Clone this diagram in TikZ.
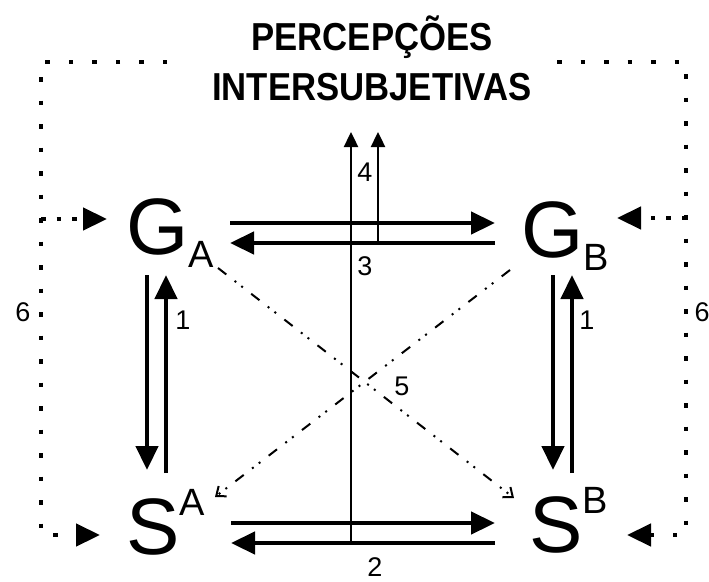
\documentclass[tikz,border=0pt]{standalone}
\usepackage{fontspec}
\setmainfont{Liberation Sans}
\newfontfamily\titlefont{Liberation Sans Bold}[FakeStretch=0.89]
\usepackage{tikz}
\usetikzlibrary{arrows.meta,calc,positioning}

\newcommand{\lowidx}[1]{\raisebox{-13pt}{\fontsize{38}{38}\selectfont #1}}
\newcommand{\highidx}[1]{\raisebox{39pt}{\fontsize{38}{38}\selectfont #1}}

\begin{document}
\begin{tikzpicture}[
    x=1pt, y=-1pt,
    term/.style={inner sep=0pt, anchor=base west, font=\fontsize{80}{80}\selectfont},
    title/.style={inner sep=0pt, anchor=base, font=\titlefont\fontsize{39}{39}\selectfont},
    num/.style={inner sep=0pt, font=\fontsize{27}{27}\selectfont},
    heavy/.style={line width=4.5pt, -{Triangle[length=24pt,width=22pt]}},
    thin/.style={line width=2.4pt, -{Triangle[length=15pt,width=14pt]}},
    cross/.style={line width=2pt, dash pattern=on 10.5pt off 10.5pt on 2pt off 6.5pt on 2pt off 10.5pt, -{Straight Barb[length=8pt,width=13pt]}},
    frame/.style={line width=4.5pt, dash pattern=on 4.5pt off 19pt, -{Triangle[length=24pt,width=22pt]}},
    branch/.style={line width=4.5pt, dash pattern=on 4.5pt off 11pt, -{Triangle[length=24pt,width=22pt]}}
]
    \useasboundingbox (0,0) rectangle (709,581);

    % Title
    \node[title] (tit1) at (372,50) {PERCEPÇÕES};
    \node[title] (tit2) at (372,100) {INTERSUBJETIVAS};

    % Terms
    \node[term] (ga) at (126,254) {G\lowidx{A}};
    \node[term] (gb) at (521,257) {G\lowidx{B}};
    \node[term] (sa) at (126,554) {S\highidx{A}};
    \node[term] (sb) at (529,552) {S\highidx{B}};

    % Frame corners
    \coordinate (ftl) at (167,62);
    \coordinate (cl1) at (41,62);
    \coordinate (cl2) at (41,535);
    \coordinate (cl3) at (41,219);
    \coordinate (ftr) at (557,62);
    \coordinate (cr1) at (686,62);
    \coordinate (cr2) at (686,535);
    \coordinate (cr3) at (686,218);

    % Numbers
    \node[num] (n1a) at (183,320) {1};
    \node[num] (n1b) at (587,320) {1};
    \node[num] (n2) at (375,567) {2};
    \node[num] (n3) at (365,266) {3};
    \node[num] (n4) at (365,172) {4};
    \node[num] (n5) at (402,386) {5};
    \node[num] (n6a) at (23,312) {6};
    \node[num] (n6b) at (702,312) {6};

    % Connections G
    \draw[heavy] ($(ga.base west)+(104,-31)$) -- ($(gb.base west)+(-26,-34)$);
    \draw[heavy] ($(gb.base west)+(-26,-14)$) -- ($(ga.base west)+(104,-11)$);

    % Connections S
    \draw[heavy] ($(sa.base west)+(105,-31)$) -- ($(sb.base west)+(-34,-29)$);
    \draw[heavy] ($(sb.base west)+(-34,-9)$) -- ($(sa.base west)+(105,-11)$);

    % Connections G-S
    \draw[heavy] ($(ga.base west)+(21,21)$) -- ($(sa.base west)+(21,-84)$);
    \draw[heavy] ($(sa.base west)+(40,-81)$) -- ($(ga.base west)+(40,21)$);
    \draw[heavy] ($(gb.base west)+(32,18)$) -- ($(sb.base west)+(24,-82)$);
    \draw[heavy] ($(sb.base west)+(43,-79)$) -- ($(gb.base west)+(51,18)$);

    % Towards the title
    \draw[thin] ($(sa.base west)+(225,-11)$) -- ($(tit2.base)+(-21,32)$);
    \draw[thin] ($(ga.base west)+(252,-11)$) -- ($(tit2.base)+(6,32)$);

    % Crossing lines
    \draw[cross] ($(ga.base west)+(92,14)$) -- ($(sb.base west)+(-15,-54)$);
    \draw[cross] ($(gb.base west)+(-11,13)$) -- ($(sa.base west)+(89,-57)$);

    % Frame
    \draw[frame] (ftl) -- (cl1) -- (cl2) -- ($(sa.base west)+(-26,-19)$);
    \draw[branch] (cl3) -- ($(ga.base west)+(-19,-35)$);
    \draw[frame] (ftr) -- (cr1) -- (cr2) -- ($(sb.base west)+(98,-17)$);
    \draw[branch] (cr3) -- ($(gb.base west)+(96,-39)$);
\end{tikzpicture}
\end{document}
